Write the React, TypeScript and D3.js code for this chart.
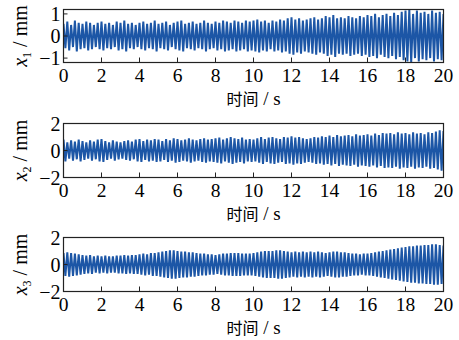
import React, { useEffect, useRef } from 'react';
import * as d3 from 'd3';

// peak amplitudes (mm), one peak every 0.2 s from 0 to 20 s
const X1 = [
  0.55, 0.65, 0.5, 0.7, 0.6,
  0.55, 0.65, 0.6, 0.5, 0.6,
  0.65, 0.55, 0.6, 0.5, 0.65,
  0.6, 0.7, 0.55, 0.6, 0.5,
  0.6, 0.65, 0.55, 0.6, 0.7,
  0.55, 0.6, 0.65, 0.5, 0.6,
  0.65, 0.7, 0.55, 0.6, 0.65,
  0.55, 0.6, 0.7, 0.6, 0.55,
  0.65, 0.6, 0.7, 0.65, 0.6,
  0.7, 0.65, 0.6, 0.7, 0.65,
  0.7, 0.75, 0.65, 0.7, 0.6,
  0.7, 0.65, 0.75, 0.7, 0.8,
  0.85, 0.75, 0.8, 0.7, 0.75,
  0.8, 0.85, 0.75, 0.8, 0.9,
  0.85, 0.95, 0.8, 0.85, 0.8,
  0.9, 0.85, 0.8, 0.9, 0.85,
  0.95, 0.9, 1.0, 0.85, 0.95,
  1.0, 0.9, 1.05, 0.95, 1.1,
  1.15, 1.2, 1.0, 1.15, 1.05,
  1.1, 1.0, 1.15, 1.05, 1.1,
  1.0,
];

const X2 = [
  0.8, 0.6, 0.75, 0.65, 0.8,
  0.7, 0.6, 0.75, 0.65, 0.8,
  0.85, 0.7, 0.6, 0.75, 0.65,
  0.6, 0.7, 0.75, 0.65, 0.8,
  0.85, 0.7, 0.8, 0.75, 0.85,
  0.8, 0.7, 0.85, 0.75, 0.9,
  0.85, 0.75, 0.8, 0.9, 0.8,
  0.75, 0.85, 0.9, 0.8, 0.85,
  0.9, 0.95, 0.8, 0.9, 1.0,
  0.9, 0.85, 0.95, 0.8, 0.85,
  0.8, 0.9, 1.0, 0.85, 0.95,
  1.0, 0.9, 0.85, 1.0, 0.95,
  1.05, 0.95, 1.0, 0.9, 0.85,
  0.9, 1.0, 0.95, 1.05, 1.0,
  1.1, 1.0, 1.15, 1.05, 1.1,
  1.15, 1.05, 1.2, 1.1, 1.15,
  1.2, 1.1, 1.25, 1.15, 1.3,
  1.25, 1.3, 1.2, 1.35, 1.25,
  1.3, 1.2, 1.35, 1.25, 1.3,
  1.2, 1.35, 1.3, 1.4, 1.5,
  1.45,
];

const X3 = [
  0.85, 0.9, 0.85, 0.8, 0.75,
  0.7, 0.65, 0.7, 0.6, 0.65,
  0.6, 0.65, 0.6, 0.6, 0.65,
  0.65, 0.7, 0.65, 0.7, 0.7,
  0.75, 0.8, 0.75, 0.85, 0.85,
  0.9, 0.95, 1.0, 1.05, 1.05,
  1.0, 0.95, 0.95, 0.9, 0.9,
  0.85, 0.8, 0.8, 0.75, 0.75,
  0.7, 0.75, 0.8, 0.8, 0.85,
  0.85, 0.85, 0.8, 0.8, 0.8,
  0.85, 0.9, 0.95, 1.0, 1.0,
  1.0, 1.05, 1.05, 1.0, 0.95,
  0.9, 0.95, 0.9, 0.95, 0.9,
  0.95, 0.9, 0.95, 0.9, 0.85,
  0.9, 0.95, 0.95, 0.9, 0.9,
  0.85, 0.8, 0.8, 0.75, 0.8,
  0.8, 0.85, 0.9, 0.95, 1.0,
  1.05, 1.1, 1.15, 1.2, 1.25,
  1.3, 1.35, 1.35, 1.4, 1.4,
  1.45, 1.45, 1.5, 1.5, 1.45,
  1.4,
];

const PEAK_STEP = 0.2; // s between successive positive peaks
const X_TICKS = [0, 2, 4, 6, 8, 10, 12, 14, 16, 18, 20];
const Y1_TICKS = [-1, 0, 1];
const Y23_TICKS = [-2, 0, 2];
const X_LABEL_CN = '时间';
const X_LABEL_UNIT = ' / s';

const panels = [
  { values: X1, sub: '1', domain: [-1.2, 1.2], ticks: Y1_TICKS, top: 9.5, bottom: 62.5 },
  { values: X2, sub: '2', domain: [-2, 2], ticks: Y23_TICKS, top: 123.5, bottom: 177.5 },
  { values: X3, sub: '3', domain: [-2, 2], ticks: Y23_TICKS, top: 237.5, bottom: 291.5 },
];

const W = 459;
const H = 340;
const LEFT = 63.5;
const RIGHT = 443.5;
const BLUE = '#1c56a6';
const SERIF = 'Liberation Serif';
const CJK = 'Noto Sans CJK SC';

export default function App() {
  const svgRef = useRef(null);

  useEffect(() => {
    const svg = d3.select(svgRef.current);
    svg.selectAll('*').remove();

    const x = d3.scaleLinear().domain([0, 20]).range([LEFT, RIGHT]);

    panels.forEach(p => {
      const y = d3.scaleLinear().domain(p.domain).range([p.bottom, p.top]);
      const g = svg.append('g');

      // signal: alternating positive / negative peaks
      const pts = [];
      p.values.forEach((a, i) => {
        const t = i * PEAK_STEP;
        pts.push([t, a]);
        if (t + PEAK_STEP / 2 <= 20) pts.push([t + PEAK_STEP / 2, -a]);
      });

      const clipId = 'clip' + p.sub;
      g.append('clipPath')
        .attr('id', clipId)
        .append('rect')
        .attr('x', LEFT)
        .attr('y', p.top)
        .attr('width', RIGHT - LEFT)
        .attr('height', p.bottom - p.top);

      g.append('path')
        .datum(pts)
        .attr('clip-path', `url(#${clipId})`)
        .attr('fill', 'none')
        .attr('stroke', BLUE)
        .attr('stroke-width', 2)
        .attr('stroke-linejoin', 'miter')
        .attr('d', d3.line().x(d => x(d[0])).y(d => y(d[1])));

      // frame
      g.append('rect')
        .attr('x', LEFT)
        .attr('y', p.top)
        .attr('width', RIGHT - LEFT)
        .attr('height', p.bottom - p.top)
        .attr('fill', 'none')
        .attr('stroke', '#222')
        .attr('stroke-width', 1.2);

      // x ticks (inward) and labels
      X_TICKS.forEach(t => {
        g.append('line')
          .attr('x1', x(t)).attr('x2', x(t))
          .attr('y1', p.bottom).attr('y2', p.bottom - 5)
          .attr('stroke', '#222');
        g.append('text')
          .attr('x', x(t))
          .attr('y', p.bottom + 19.5)
          .attr('text-anchor', 'middle')
          .attr('font-family', SERIF)
          .attr('font-size', 19.5)
          .text(t);
      });

      // y ticks (inward) and labels
      p.ticks.forEach(v => {
        g.append('line')
          .attr('x1', LEFT).attr('x2', LEFT + 4)
          .attr('y1', y(v)).attr('y2', y(v))
          .attr('stroke', '#222');
        g.append('text')
          .attr('x', LEFT - 3)
          .attr('y', y(v) + 7)
          .attr('text-anchor', 'end')
          .attr('font-family', SERIF)
          .attr('font-size', 20)
          .text(v < 0 ? '\u2212' + Math.abs(v) : String(v));
      });

      // x label
      const xl = g.append('text')
        .attr('x', (LEFT + RIGHT) / 2)
        .attr('y', p.bottom + 42)
        .attr('text-anchor', 'middle')
        .attr('font-size', 16);
      xl.append('tspan').attr('font-family', CJK).text(X_LABEL_CN);
      xl.append('tspan').attr('font-family', SERIF).attr('font-size', 19).text(X_LABEL_UNIT);

      // y label
      const cy = (p.top + p.bottom) / 2;
      const yl = g.append('text')
        .attr('transform', `translate(27,${cy}) rotate(-90)`)
        .attr('text-anchor', 'middle')
        .attr('font-family', SERIF)
        .attr('font-size', 20);
      yl.append('tspan').attr('font-style', 'italic').text('x');
      yl.append('tspan').attr('dy', 4).attr('font-size', 12).text(p.sub);
      yl.append('tspan').attr('dy', -4).text(' / mm');
    });
  }, []);

  return (
    <svg
      ref={svgRef}
      width={W}
      height={H}
      style={{ position: 'absolute', left: 0, top: 0, background: '#fff' }}
    />
  );
}
